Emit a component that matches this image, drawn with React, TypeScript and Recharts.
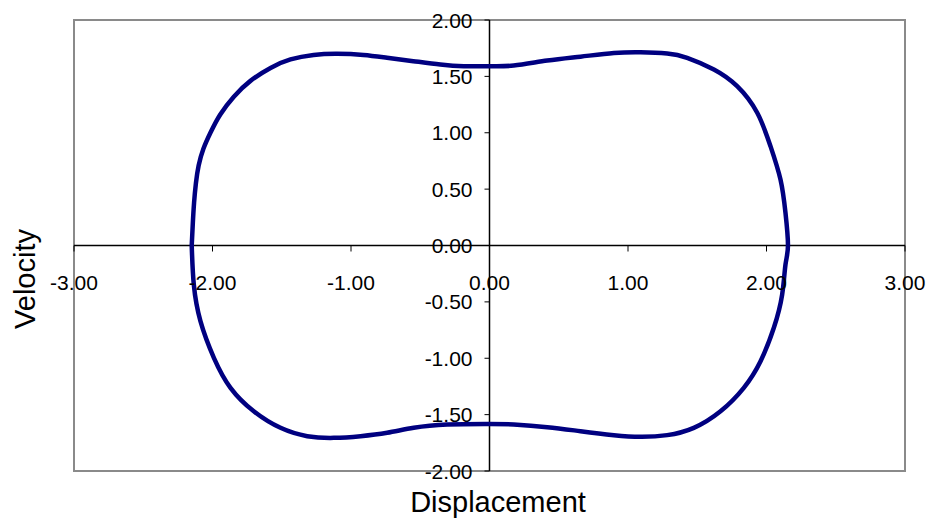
import React from 'react';
import { LineChart, Line, XAxis, YAxis, ReferenceLine, ReferenceArea } from 'recharts';

// Phase portrait (displacement, velocity), traced clockwise
const displacement = [
  -2.15, -2.142, -2.133, -2.12, -2.1, -2.065, -2.015, -1.945, -1.846, -1.726, -1.581, -1.437, -1.27, -1.1, -0.91, -0.74,
  -0.55, -0.355, -0.185, 0.0, 0.175, 0.417, 0.657, 0.898, 1.09, 1.283, 1.427, 1.62, 1.788, 1.933, 2.029, 2.101,
  2.137, 2.155, 2.137, 2.113, 2.053, 1.957, 1.836, 1.668, 1.475, 1.283, 1.09, 0.898, 0.657, 0.417, 0.175, 0.0,
  -0.305, -0.547, -0.739, -0.931, -1.124, -1.316, -1.509, -1.702, -1.87, -1.99, -2.087, -2.135, -2.15,
];
const velocity = [
  0.0, 0.2, 0.38, 0.55, 0.71, 0.86, 1.0, 1.16, 1.32, 1.46, 1.575, 1.65, 1.69, 1.7, 1.69, 1.665,
  1.635, 1.605, 1.59, 1.59, 1.596, 1.64, 1.675, 1.707, 1.714, 1.703, 1.665, 1.561, 1.413, 1.177, 0.88, 0.585,
  0.29, 0.0, -0.17, -0.435, -0.73, -1.026, -1.262, -1.47, -1.617, -1.682, -1.697, -1.682, -1.647, -1.611, -1.588, -1.583,
  -1.588, -1.617, -1.661, -1.691, -1.706, -1.691, -1.617, -1.47, -1.262, -0.996, -0.671, -0.346, 0.0,
];
const xTicks = [-3, -2, -1, 0, 1, 2, 3];
const yTicks = [-2, -1.5, -1, -0.5, 0, 0.5, 1, 1.5, 2];
const xTitle = 'Displacement';
const yTitle = 'Velocity';

const data = displacement.map((x, i) => ({ x, y: velocity[i] }));

const W = 932;
const H = 523;
// plot area: x 74..905, y 20..471
const PLOT = { left: 74, right: 905, top: 20, bottom: 471 };
const XAXIS_H = 30;
const YAXIS_W = 30;
const M = { top: PLOT.top, right: W - PLOT.right, bottom: H - PLOT.bottom - XAXIS_H, left: PLOT.left - YAXIS_W };
const ZERO_Y = (PLOT.top + PLOT.bottom) / 2;
const ZERO_X = (PLOT.left + PLOT.right) / 2;
const FONT = 'Liberation Sans, Arial, sans-serif';

const renderXTick = (props: any) => {
  const { x, payload } = props;
  return (
    <g key={`xt-${payload.value}`}>
      <line x1={x} x2={x} y1={ZERO_Y} y2={ZERO_Y + 6} stroke="#000" strokeWidth={1} />
      <text x={x} y={ZERO_Y + 37} textAnchor="middle" dominantBaseline="central" fontSize={21} fontFamily={FONT} fill="#000">
        {Number(payload.value).toFixed(2)}
      </text>
    </g>
  );
};

const renderYTick = (props: any) => {
  const { y, payload } = props;
  return (
    <g key={`yt-${payload.value}`}>
      <line x1={ZERO_X - 5} x2={ZERO_X} y1={y} y2={y} stroke="#000" strokeWidth={1} />
      <text x={ZERO_X - 17} y={y} textAnchor="end" dominantBaseline="central" fontSize={21} fontFamily={FONT} fill="#000">
        {Number(payload.value).toFixed(2)}
      </text>
    </g>
  );
};

export default function App() {
  return (
    <div style={{ position: 'absolute', left: 0, top: 0, width: W, height: H, background: '#fff' }}>
      <LineChart width={W} height={H} data={data} margin={M}>
        <ReferenceArea x1={-3} x2={3} y1={-2} y2={2} fill="none" stroke="#8a8a8a" strokeWidth={2} />
        <ReferenceLine y={0} stroke="#000" strokeWidth={1.5} />
        <ReferenceLine x={0} stroke="#000" strokeWidth={1.5} />
        <Line
          dataKey="y"
          type="natural"
          stroke="#000080"
          strokeWidth={4.5}
          dot={false}
          isAnimationActive={false}
        />
        <XAxis
          type="number"
          dataKey="x"
          domain={[-3, 3]}
          ticks={xTicks}
          height={XAXIS_H}
          axisLine={false}
          tickLine={false}
          tick={renderXTick}
          interval={0}
        />
        <YAxis
          type="number"
          domain={[-2, 2]}
          ticks={yTicks}
          width={YAXIS_W}
          axisLine={false}
          tickLine={false}
          tick={renderYTick}
          interval={0}
        />
      </LineChart>
      <svg width={W} height={H} style={{ position: 'absolute', left: 0, top: 0, pointerEvents: 'none' }}>
        <text x={498} y={512} textAnchor="middle" fontSize={29} fontFamily={FONT} fill="#000">
          {xTitle}
        </text>
        <text transform="translate(35, 279) rotate(-90)" textAnchor="middle" fontSize={29} fontFamily={FONT} fill="#000">
          {yTitle}
        </text>
      </svg>
    </div>
  );
}
